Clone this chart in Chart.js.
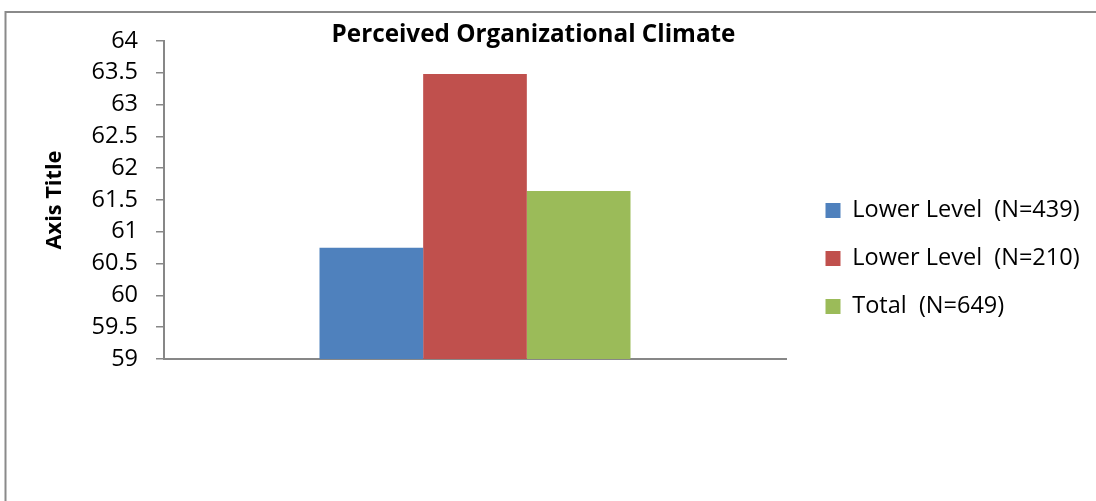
<!DOCTYPE html>
<html>
<head>
<meta charset="utf-8">
<title>Perceived Organizational Climate</title>
<script src="https://cdn.jsdelivr.net/npm/chart.js@4.4.1/dist/chart.umd.min.js"></script>
<style>
  html, body { margin: 0; padding: 0; background: #ffffff; }
  #wrap { width: 1096px; height: 501px; }
</style>
</head>
<body>
<div id="wrap"><canvas id="chart" width="1096" height="501"></canvas></div>
<script>
// Chart data
const categories = [''];
const seriesNames = ['Lower Level  (N=439)', 'Lower Level  (N=210)', 'Total  (N=649)'];
const lowerLevel439 = [60.75];
const lowerLevel210 = [63.48];
const totalAll = [61.64];
const seriesColors = ['#4F81BD', '#C0504D', '#9BBB59'];
const yTickValues = [59, 59.5, 60, 60.5, 61, 61.5, 62, 62.5, 63, 63.5, 64];

const FONT = "'Open Sans', 'Liberation Sans', sans-serif";
const AXIS_GREY = '#878787';

// Thin grey frame along the top and left edges of the chart
const framePlugin = {
  id: 'frame',
  beforeDraw(chart) {
    const ctx = chart.ctx;
    ctx.save();
    ctx.strokeStyle = '#8a8a8a';
    ctx.lineWidth = 2;
    ctx.beginPath();
    ctx.moveTo(4.5, 12);
    ctx.lineTo(chart.width, 12);
    ctx.moveTo(5.5, 11);
    ctx.lineTo(5.5, chart.height);
    ctx.stroke();
    ctx.restore();
  }
};

// Let the legend use the space up to the right edge of the canvas,
// so its longer labels are not clipped by the right layout padding.
const legendReachPlugin = {
  id: 'legendReach',
  afterLayout(chart) {
    const lg = chart.legend;
    if (lg) {
      lg.right = chart.width;
      lg.width = lg.right - lg.left;
    }
  }
};

Chart.defaults.color = '#000000';
Chart.defaults.font.family = FONT;

new Chart(document.getElementById('chart'), {
  type: 'bar',
  data: {
    labels: categories,
    datasets: [
      { label: seriesNames[0], data: lowerLevel439, backgroundColor: seriesColors[0] },
      { label: seriesNames[1], data: lowerLevel210, backgroundColor: seriesColors[1] },
      { label: seriesNames[2], data: totalAll, backgroundColor: seriesColors[2] }
    ]
  },
  options: {
    responsive: false,
    devicePixelRatio: 1,
    animation: false,
    events: [],
    layout: { padding: { left: 0, right: 29, top: 16, bottom: 0 } },
    datasets: {
      bar: { categoryPercentage: 0.5, barPercentage: 1.0, borderWidth: 0 }
    },
    plugins: {
      tooltip: { enabled: false },
      title: {
        display: true,
        text: 'Perceived Organizational Climate',
        color: '#000000',
        font: { family: FONT, size: 24.25, weight: 'bold', lineHeight: 1 },
        padding: { top: 7.4, bottom: -6.65 }
      },
      legend: {
        position: 'right',
        align: 'center',
        maxWidth: 266,
        labels: {
          boxWidth: 15,
          boxHeight: 15,
          padding: 24.5,
          color: '#000000',
          font: { family: FONT, size: 23.5 }
        }
      }
    },
    scales: {
      x: {
        grid: { display: false },
        border: { display: true, color: AXIS_GREY, width: 2 },
        ticks: { display: false },
        afterFit(scale) { scale.height = 142; }
      },
      y: {
        min: 59,
        max: 64,
        afterBuildTicks(scale) { scale.ticks = yTickValues.map(v => ({ value: v })); },
        grid: {
          drawOnChartArea: false,
          drawTicks: true,
          tickLength: 8,
          color: AXIS_GREY,
          lineWidth: 1.5
        },
        border: { display: true, color: AXIS_GREY, width: 2 },
        ticks: {
          padding: 18,
          color: '#000000',
          font: { family: FONT, size: 23.5 },
          callback: (value) => String(value)
        },
        title: {
          display: true,
          text: 'Axis Title',
          color: '#000000',
          font: { family: FONT, size: 21.75, weight: 'bold', lineHeight: 1.2 },
          padding: { top: 42, bottom: 0 }
        },
        afterFit(scale) { scale.width = 164; }
      },
      spacer: {
        type: 'linear',
        position: 'right',
        display: true,
        grid: { display: false },
        border: { display: false },
        ticks: { display: false },
        afterFit(scale) { scale.width = 15; }
      }
    }
  },
  plugins: [framePlugin, legendReachPlugin]
});
</script>
</body>
</html>
